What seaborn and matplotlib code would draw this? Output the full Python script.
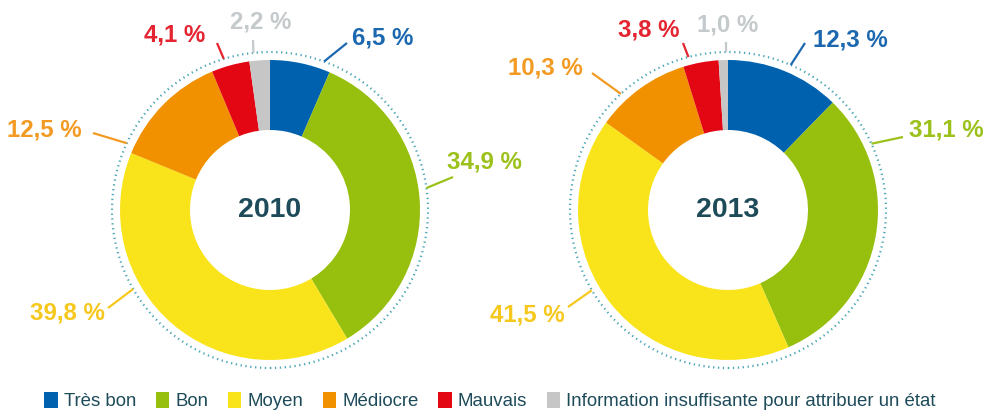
import numpy as np
import matplotlib
matplotlib.use("Agg")
import matplotlib.pyplot as plt
from matplotlib.patches import Circle, Patch
import seaborn as sns

# Condition categories (clockwise from 12 o'clock)
categories = ["Très bon", "Bon", "Moyen", "Médiocre", "Mauvais",
              "Information insuffisante pour attribuer un état"]
years = ["2010", "2013"]
shares_2010 = [6.5, 34.9, 39.8, 12.5, 4.1, 2.2]
shares_2013 = [12.3, 31.1, 41.5, 10.3, 3.8, 1.0]

wedge_colors = ["#0061AE", "#97BF0D", "#F9E41B", "#F29100", "#E30613", "#C6C6C6"]
label_colors = ["#1C68B0", "#9BC11A", "#F6C81E", "#F39A22", "#E42430", "#C4C9CC"]
text_dark = "#1E4B5A"
ring_color = "#4CA8B6"

sns.set_theme(style="white")
plt.rcParams["font.family"] = ["Liberation Sans", "DejaVu Sans"]
palette = sns.color_palette(wedge_colors)

W, H = 987, 412
fig = plt.figure(figsize=(W / 100, H / 100), dpi=100)
ax = fig.add_axes([0, 0, 1, 1])

R_OUT, R_IN, R_RING = 150, 80, 158

# Leader layout per donut: anchor angle on the dotted ring (deg),
# leader end (dx, dy) and label position (dx, dy, ha) relative to centre
layouts = [
    dict(center=(270, 202),
         anchors=[70, 8, -150, 155, 107, 96],
         ends=[(77, 167), (183, 33), (-162, -98), (-177, 77), (-53, 167), (-17, 170)],
         labels=[(82, 172, "left"), (177, 48, "left"), (-165, -103, "right"),
                 (-188, 80, "right"), (-65, 175, "right"), (-9, 188, "center")]),
    dict(center=(728, 202),
         anchors=[66.6, 24.8, -149.5, 132.7, 104.5, 90.7],
         ends=[(77, 167), (175, 73), (-160, -97), (-136, 137), (-45, 167), (-2, 168)],
         labels=[(85, 170, "left"), (181, 80, "left"), (-163, -105, "right"),
                 (-145, 142, "right"), (-48, 180, "right"), (0, 185, "center")]),
]

for year, shares, lay in zip(years, [shares_2010, shares_2013], layouts):
    cx, cy = lay["center"]
    ax.pie(shares, colors=palette, startangle=90, counterclock=False,
           center=(cx, cy), radius=R_OUT,
           wedgeprops=dict(width=R_OUT - R_IN, edgecolor="none", linewidth=0))
    ax.add_patch(Circle((cx, cy), R_RING, fill=False, edgecolor=ring_color,
                        linewidth=1.6, linestyle=(0, (0.6, 1.6))))
    ax.text(cx, cy, year, ha="center", va="center", fontsize=20.5,
            fontweight="bold", color=text_dark)
    for v, lc, ang, (ex, ey), (lx, ly, ha) in zip(shares, label_colors,
                                                   lay["anchors"], lay["ends"],
                                                   lay["labels"]):
        a = np.deg2rad(ang)
        x0, y0 = cx + R_RING * np.cos(a), cy + R_RING * np.sin(a)
        ax.plot([x0, cx + ex], [y0, cy + ey], color=lc, linewidth=1.6,
                solid_capstyle="butt")
        txt = f"{v:.1f}".replace(".", ",") + " %"
        ax.text(cx + lx, cy + ly, txt, ha=ha, va="center", fontsize=17.3,
                fontweight="bold", color=lc)

ax.set_xlim(0, W)
ax.set_ylim(0, H)
ax.set_aspect("equal")
ax.axis("off")

handles = [Patch(facecolor=c, edgecolor="none") for c in wedge_colors]
fig.legend(handles, categories, loc="center", bbox_to_anchor=(0.4965, 1 - 401 / H),
           ncol=6, frameon=False, fontsize=13.4, handlelength=0.72, handleheight=0.95,
           handletextpad=0.34, columnspacing=1.04, labelcolor=text_dark,
           borderpad=0.2)

fig.savefig("out.png", dpi=100, facecolor="white")
